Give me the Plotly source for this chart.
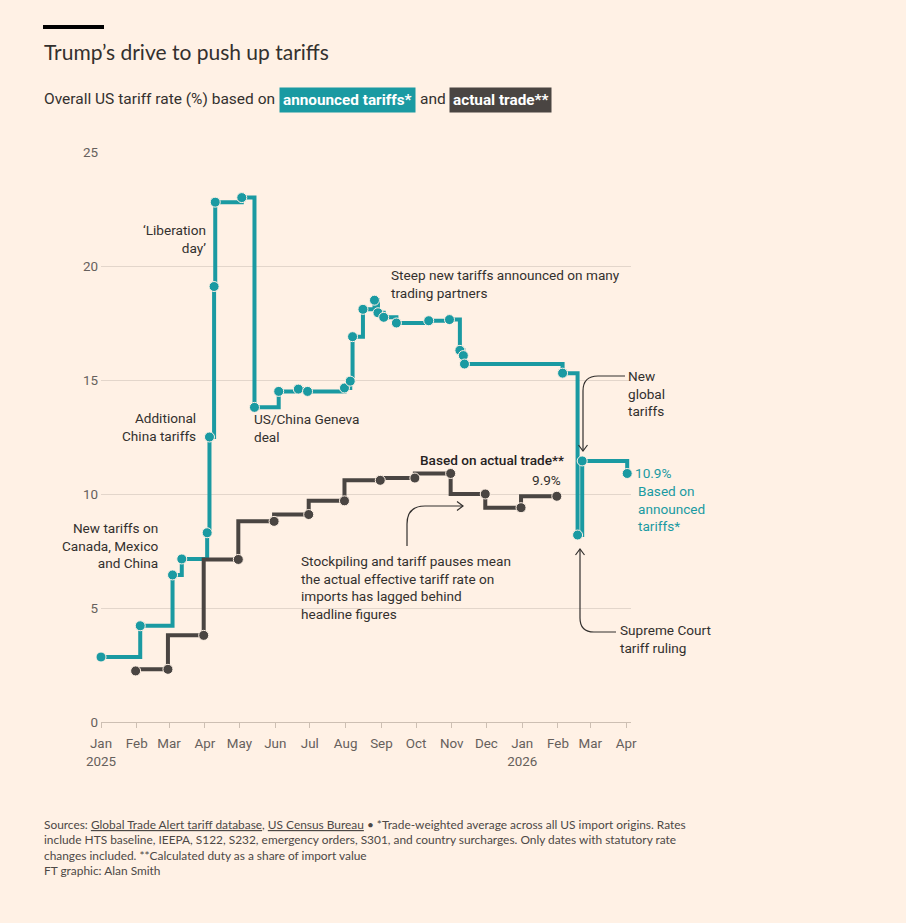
import plotly.graph_objects as go

# ---------------- data ----------------
announced_dates = [
    "2025-01-01", "2025-02-04", "2025-03-04", "2025-03-12", "2025-04-03",
    "2025-04-05", "2025-04-09", "2025-04-10", "2025-05-03", "2025-05-14",
    "2025-06-04", "2025-06-21", "2025-06-29", "2025-07-31", "2025-08-05",
    "2025-08-07", "2025-08-16", "2025-08-26", "2025-08-29", "2025-09-03",
    "2025-09-14", "2025-10-12", "2025-10-30", "2025-11-08", "2025-11-11",
    "2025-11-12", "2026-02-05", "2026-02-18", "2026-02-22", "2026-04-02",
]
announced_values = [
    2.85, 4.22, 6.45, 7.15, 8.3,
    12.5, 19.1, 22.8, 23.0, 13.8,
    14.5, 14.6, 14.5, 14.65, 14.95,
    16.9, 18.1, 18.5, 17.95, 17.75,
    17.5, 17.6, 17.65, 16.3, 16.07,
    15.7, 15.3, 8.2, 11.45, 10.9,
]

actual_dates = [
    "2025-01-31", "2025-02-28", "2025-03-31", "2025-04-30", "2025-05-31",
    "2025-06-30", "2025-07-31", "2025-08-31", "2025-09-30", "2025-10-31",
    "2025-11-30", "2025-12-31", "2026-01-31",
]
actual_values = [2.24, 2.31, 3.8, 7.13, 8.8, 9.1, 9.7, 10.6, 10.7, 10.9, 10.0, 9.4, 9.9]

month_ticks = [
    "2025-01-01", "2025-02-01", "2025-03-01", "2025-04-01", "2025-05-01",
    "2025-06-01", "2025-07-01", "2025-08-01", "2025-09-01", "2025-10-01",
    "2025-11-01", "2025-12-01", "2026-01-01", "2026-02-01", "2026-03-01",
    "2026-04-01",
]
month_labels = [
    "Jan<br>2025", "Feb", "Mar", "Apr", "May", "Jun", "Jul", "Aug", "Sep",
    "Oct", "Nov", "Dec", "Jan<br>2026", "Feb", "Mar", "Apr",
]
y_ticks = [0, 5, 10, 15, 20, 25]

# ---------------- style ----------------
BG = "#fff1e5"
TEAL = "#1a9aa2"
DARK = "#4a4542"
TEXT = "#33302e"
MUTED = "#66605c"
GRID = "#e3d6cb"
AXIS = "#cdbfb3"
TFONT = "Lato"
FONT = "Roboto"
ASIZE = 13.6

W, H = 906, 923
ML, MR, MT, MB = 101, 275, 152, 201
PW = W - ML - MR
PH = H - MT - MB


def fx(px):
    return (px - ML) / PW


def fy(py):
    return (H - MB - py) / PH


fig = go.Figure()

fig.add_trace(go.Scatter(
    x=announced_dates, y=announced_values, mode="lines+markers",
    line=dict(color=TEAL, width=4, shape="hv"),
    marker=dict(size=10, color=TEAL, line=dict(color=BG, width=1)),
    cliponaxis=False, hoverinfo="skip", showlegend=False,
))
fig.add_trace(go.Scatter(
    x=actual_dates, y=actual_values, mode="lines+markers",
    line=dict(color=DARK, width=4, shape="vh"),
    marker=dict(size=10, color=DARK, line=dict(color=BG, width=1)),
    cliponaxis=False, hoverinfo="skip", showlegend=False,
))

annotations = []


def note(text, x, y, xanchor, align, color=TEXT, size=ASIZE, xref="x", yref="y",
         yanchor="middle", xshift=0, yshift=0, family=FONT, weight="normal"):
    annotations.append(dict(
        text=text, x=x, y=y, xref=xref, yref=yref, xanchor=xanchor,
        yanchor=yanchor, align=align, showarrow=False, xshift=xshift,
        yshift=yshift, font=dict(family=family, size=size, color=color, weight=weight),
    ))


note("‘Liberation<br>day’", "2025-04-04", 21.2, "right", "right")
note("Additional<br>China tariffs", "2025-03-26", 12.94, "right", "right")
note("US/China Geneva<br>deal", "2025-05-12", 12.9, "left", "left")
note("Steep new tariffs announced on many<br>trading partners", "2025-09-08", 19.19, "left", "left")
note("New<br>global<br>tariffs", "2026-04-01", 14.43, "left", "left")
note("Based on actual trade**", "2026-02-08", 11.49, "right", "right",
     color="#26221f", weight=500)
note("9.9%", "2026-02-05", 10.61, "right", "right")
note("Stockpiling and tariff pauses mean<br>the actual effective tariff rate on<br>"
     "imports has lagged behind<br>headline figures", "2025-06-22", 5.9, "left", "left")
note("Supreme Court<br>tariff ruling", "2026-03-25", 3.66, "left", "left")
note("New tariffs on<br>Canada, Mexico<br>and China", "2025-02-21", 7.72, "right", "right")
note("10.9%", announced_dates[-1], announced_values[-1], "left", "left",
     color=TEAL, xshift=6)
note("Based on<br>announced<br>tariffs*", announced_dates[-1], announced_values[-1],
     "left", "left", color=TEAL, yanchor="top", xshift=9, yshift=-8)

# title / subtitle / sources
note("Trump’s drive to push up tariffs", fx(44), fy(52), "left", "left",
     size=21, xref="paper", yref="paper", xshift=-2, family=TFONT)
note("Overall US tariff rate (%) based on", fx(44), fy(99), "left", "left",
     size=15.5, xref="paper", yref="paper", xshift=-2)
annotations.append(dict(
    text="<b>announced tariffs*</b>", x=fx(279), y=fy(99.5), xref="paper", yref="paper",
    xanchor="left", yanchor="middle", showarrow=False, bgcolor=TEAL, borderpad=3,
    font=dict(family=FONT, size=15.3, color="white"),
))
note("and", fx(418), fy(99), "left", "left", size=15.5, xref="paper", yref="paper")
annotations.append(dict(
    text="<b>actual trade**</b>", x=fx(449), y=fy(99.5), xref="paper", yref="paper",
    xanchor="left", yanchor="middle", showarrow=False, bgcolor=DARK, borderpad=3,
    font=dict(family=FONT, size=15.3, color="white"),
))
U = "<span style='text-decoration:underline'>"
note(
    "Sources: " + U + "Global Trade Alert tariff database</span>, " + U +
    "US Census Bureau</span> • *Trade-weighted average across all US import origins. Rates<br>"
    "include HTS baseline, IEEPA, S122, S232, emergency orders, S301, and country surcharges. "
    "Only dates with statutory rate<br>changes included. **Calculated duty as a share of import value<br>"
    "FT graphic: Alan Smith",
    fx(44), fy(815), "left", "left", color="#4d4845", size=11.9, xref="paper",
    yref="paper", yanchor="top", xshift=-2, family=TFONT,
)

# ---------------- shapes ----------------
def path(cmds):
    out = []
    for c in cmds:
        op = c[0]
        coords = c[1:]
        seg = op + " " + " ".join(f"{fx(coords[i]):.5f},{fy(coords[i + 1]):.5f}"
                                  for i in range(0, len(coords), 2))
        out.append(seg)
    return " ".join(out)


arrow_line = dict(color=TEXT, width=1.2)
shapes = [
    dict(type="rect", xref="paper", yref="paper", x0=fx(43), x1=fx(104),
         y0=fy(25), y1=fy(29), fillcolor="#000000", line=dict(width=0)),
    # New global tariffs
    dict(type="path", xref="paper", yref="paper", line=arrow_line,
         path=path([("M", 625, 376), ("L", 598, 376), ("Q", 583, 376, 583, 391),
                    ("L", 583, 451)])),
    dict(type="path", xref="paper", yref="paper", line=arrow_line,
         path=path([("M", 578.5, 445), ("L", 583, 451), ("L", 587.5, 445)])),
    # Supreme Court
    dict(type="path", xref="paper", yref="paper", line=arrow_line,
         path=path([("M", 616, 632), ("L", 594, 632), ("Q", 580, 632, 580, 618),
                    ("L", 580, 549)])),
    dict(type="path", xref="paper", yref="paper", line=arrow_line,
         path=path([("M", 575.5, 555), ("L", 580, 549), ("L", 584.5, 555)])),
    # Stockpiling
    dict(type="path", xref="paper", yref="paper", line=arrow_line,
         path=path([("M", 407, 546), ("L", 407, 524), ("Q", 407, 506, 425, 506),
                    ("L", 463, 506)])),
    dict(type="path", xref="paper", yref="paper", line=arrow_line,
         path=path([("M", 457, 501.5), ("L", 463, 506), ("L", 457, 510.5)])),
]

fig.update_layout(
    width=W, height=H,
    margin=dict(l=ML, r=MR, t=MT, b=MB, pad=0),
    paper_bgcolor=BG, plot_bgcolor=BG,
    font=dict(family=FONT, size=13, color=TEXT),
    annotations=annotations, shapes=shapes,
    xaxis=dict(
        type="date", range=["2025-01-01", "2026-04-05 07:00"],
        tickvals=month_ticks, ticktext=month_labels,
        showgrid=False, zeroline=False, showline=True, linecolor=AXIS, linewidth=1,
        ticks="outside", ticklen=5, tickcolor=AXIS, tickwidth=1,
        ticklabelstandoff=4,
        tickfont=dict(family=FONT, size=13.4, color=MUTED),
    ),
    yaxis=dict(
        range=[0, 25], tickvals=y_ticks, showgrid=True, gridcolor=GRID, gridwidth=1,
        zeroline=False, showline=False, ticks="", ticklabelstandoff=2,
        tickfont=dict(family=FONT, size=13.4, color=MUTED),
    ),
)

fig.write_html("out.html", config={"displayModeBar": False},
               post_script="document.body.style.margin='0';document.body.style.overflow='hidden';")
